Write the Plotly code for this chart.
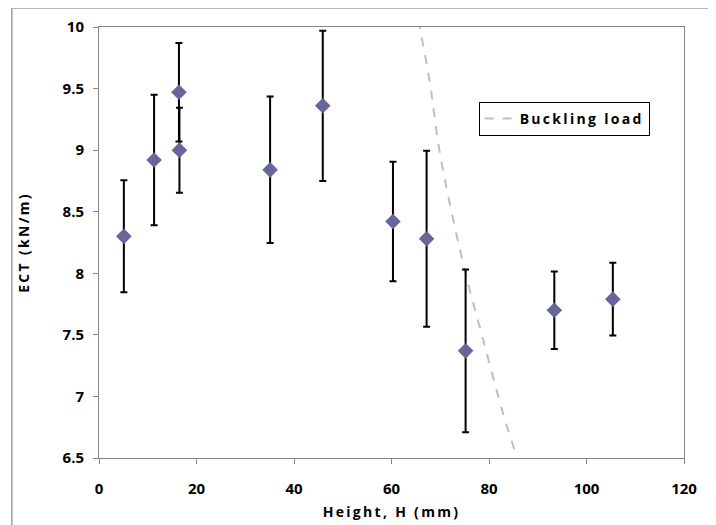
import plotly.graph_objects as go

# Measured data
height_mm = [5.1, 11.3, 16.4, 16.5, 35.1, 45.9, 60.3, 67.2, 75.2, 93.4, 105.4]
ect_knm = [8.30, 8.92, 9.47, 9.00, 8.84, 9.36, 8.42, 8.28, 7.37, 7.70, 7.79]
ect_err = [0.455, 0.53, 0.40, 0.345, 0.595, 0.61, 0.485, 0.715, 0.66, 0.315, 0.295]

# Buckling load curve
buck_h = [65.5, 67.9, 69.9, 74.7, 78.8, 82.9, 85.7]
buck_p = [10.06, 9.54, 8.98, 8.08, 7.46, 6.86, 6.51]

x_ticks = [0, 20, 40, 60, 80, 100, 120]
y_ticks = [6.5, 7, 7.5, 8, 8.5, 9, 9.5, 10]
y_tick_text = ["6.5", "7", "7.5", "8", "8.5", "9", "9.5", "10"]

FONT = "Open Sans"
AXC = "#868686"


def spaced(s, px=2.3):
    return f'<span style="letter-spacing:{px}px">{s}</span>'


fig = go.Figure()

fig.add_trace(go.Scatter(
    x=buck_h, y=buck_p, mode="lines", name=spaced("Buckling load"),
    line=dict(color="#BFBFBF", width=2, dash="dash", shape="spline"),
    showlegend=True,
))

fig.add_trace(go.Scatter(
    x=height_mm, y=ect_knm, mode="markers", name="ECT",
    marker=dict(symbol="diamond", size=12, color="#666699"),
    error_y=dict(type="data", array=ect_err, visible=True,
                 color="black", thickness=2, width=3.5),
    showlegend=False,
))

fig.update_layout(
    width=708, height=517,
    margin=dict(l=91, r=32, t=19, b=67, autoexpand=False),
    paper_bgcolor="white", plot_bgcolor="white",
    font=dict(family=FONT, size=14, color="black", weight="bold"),
    showlegend=True,
    legend=dict(x=0.649, y=0.826, xanchor="left", yanchor="top",
                bgcolor="white", bordercolor="black", borderwidth=1,
                font=dict(family=FONT, size=14, weight="bold"),
                tracegroupgap=0, itemwidth=30),
    xaxis=dict(
        range=[0, 120], tickvals=x_ticks, ticktext=[str(v) for v in x_ticks],
        showgrid=False, zeroline=False, showline=True, linecolor=AXC,
        linewidth=1, mirror=True, ticks="outside", ticklen=5, tickcolor=AXC,
        tickfont=dict(family=FONT, size=15, weight="bold"),
        ticklabelstandoff=12,
        automargin=False,
        title=dict(text=spaced("Height, H (mm)"), standoff=10,
                   font=dict(family=FONT, size=14, weight="bold")),
    ),
    yaxis=dict(
        range=[6.5, 10], tickvals=y_ticks, ticktext=y_tick_text,
        showgrid=False, zeroline=False, showline=True, linecolor=AXC,
        linewidth=1, mirror=True, ticks="outside", ticklen=5, tickcolor=AXC,
        tickfont=dict(family=FONT, size=15, weight="bold"),
        ticklabelstandoff=6,
        automargin=False,
        title=dict(text=spaced("ECT (kN/m)"), standoff=29,
                   font=dict(family=FONT, size=14, weight="bold")),
    ),
    shapes=[dict(type="rect", xref="paper", yref="paper",
                 x0=-0.149, x1=1.053, y0=-0.3, y1=1.044,
                 line=dict(color="#A0A0A0", width=1.5), layer="below")],
)

fig.write_html("out.html")
